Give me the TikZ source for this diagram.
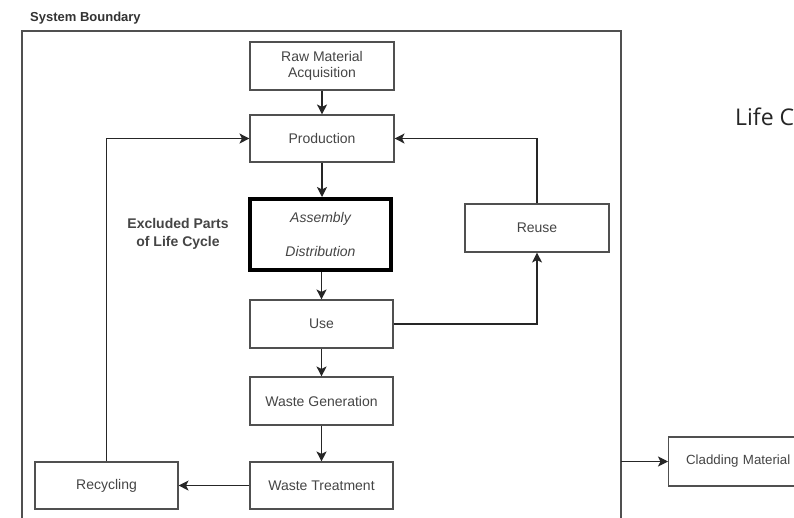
\documentclass[tikz,border=0pt]{standalone}
\usepackage{fontspec}
\setmainfont{Liberation Sans}
\newfontfamily\lifefont{Open Sans}
\usetikzlibrary{arrows.meta}
\definecolor{txt}{HTML}{454545}
\definecolor{edge}{HTML}{505050}
\tikzset{
  box/.style={draw=edge, line width=1.1pt, fill=white, text=txt, align=center,
    font=\fontsize{14}{16}\selectfont, inner sep=0pt},
  conn/.style={draw=black!85, line width=1.1pt, -{Stealth[length=10pt,width=10pt,inset=2.5pt]}},
  plain/.style={draw=black!85, line width=1.1pt}
}
\begin{document}
\begin{tikzpicture}[x=1pt,y=-1pt]
\clip (0,0) rectangle (794,517);
\fill[white] (0,0) rectangle (794,517);
% system boundary
\node[anchor=west, inner sep=0pt, text=black!80, font=\bfseries\fontsize{13}{15}\selectfont] (sblabel) at (30,18) {System Boundary};
\draw[draw=edge, line width=1.1pt] (22,530) -- (22,31) -- (621,31) -- (621,530);
% nodes
\node[box, minimum width=144, minimum height=48] (raw) at (322,66) {Raw Material\\Acquisition};
\node[box, minimum width=144, minimum height=47] (prod) at (322,138.5) {Production};
\node[box, draw=black, line width=4pt, minimum width=141, minimum height=71, font=\itshape\fontsize{14}{16}\selectfont] (asm) at (320.5,234.5) {Assembly\\[18pt]Distribution};
\node[box, minimum width=143, minimum height=48] (use) at (321.5,324) {Use};
\node[box, minimum width=143, minimum height=48] (wgen) at (321.5,401) {Waste Generation};
\node[box, minimum width=143, minimum height=47] (wtreat) at (321.5,485.5) {Waste Treatment};
\node[box, minimum width=143, minimum height=47] (recyc) at (106.5,485.5) {Recycling};
\node[box, minimum width=144, minimum height=48] (reuse) at (537,228) {Reuse};
\node[box, anchor=west, minimum width=150, minimum height=49, text width=145, align=left, inner xsep=0pt, font=\fontsize{13.3}{16}\selectfont] (clad) at (668,461.5) {\hspace*{15pt}Cladding Material};
\node[align=center, inner sep=0pt, text=txt, font=\bfseries\fontsize{14}{18}\selectfont] (excl) at (178,234) {Excluded Parts\\of Life Cycle};
\node[anchor=west, inner sep=0pt, text=black!85, font=\lifefont\fontsize{23}{25}\selectfont] (life) at (735,117) {Life C};
% connectors
\draw[conn] (raw.south) -- (prod.north);
\draw[conn] (prod.south) -- (prod.south |- asm.north);
\draw[conn] (use.north |- asm.south) -- (use.north);
\draw[conn] (use.south) -- (wgen.north);
\draw[conn] (wgen.south) -- (wtreat.north);
\draw[conn] (wtreat.west) -- (recyc.east);
\draw[conn] (recyc.north) |- (prod.west);
\draw[conn] (reuse.north) |- (prod.east);
\draw[conn] (use.east) -| (reuse.south);
\coordinate (bd) at (621,461.5);
\draw[conn] (bd) -- (clad.west);
\end{tikzpicture}
\end{document}
